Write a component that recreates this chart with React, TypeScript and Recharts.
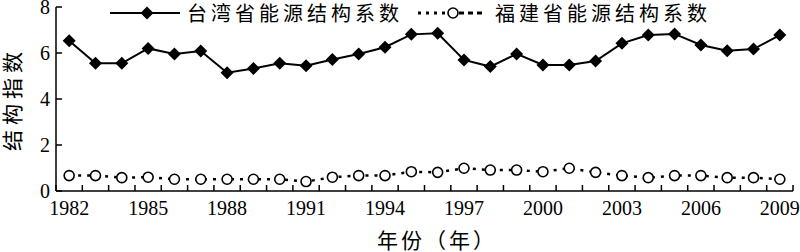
import React from 'react';
import { LineChart, Line, XAxis, YAxis } from 'recharts';

const years = [
  1982, 1983, 1984, 1985, 1986, 1987, 1988, 1989, 1990, 1991, 1992, 1993, 1994, 1995,
  1996, 1997, 1998, 1999, 2000, 2001, 2002, 2003, 2004, 2005, 2006, 2007, 2008, 2009,
];
const taiwan = [
  6.53, 5.55, 5.55, 6.2, 5.96, 6.09, 5.14, 5.33, 5.55, 5.45, 5.72, 5.96, 6.25, 6.81,
  6.86, 5.7, 5.41, 5.96, 5.48, 5.48, 5.65, 6.42, 6.78, 6.83, 6.35, 6.1, 6.17, 6.78,
];
const fujian = [
  0.67, 0.67, 0.58, 0.6, 0.51, 0.51, 0.51, 0.51, 0.51, 0.41, 0.6, 0.67, 0.67, 0.84,
  0.81, 0.99, 0.91, 0.91, 0.84, 0.99, 0.81, 0.67, 0.58, 0.67, 0.67, 0.58, 0.58, 0.51,
];
const yTicks = [0, 2, 4, 6, 8];
const labelYears = [1982, 1985, 1988, 1991, 1994, 1997, 2000, 2003, 2006, 2009];
const seriesNames = ['台湾省能源结构系数', '福建省能源结构系数'];

const data = years.map((y, i) => ({ year: y, tw: taiwan[i], fj: fujian[i] }));
const boundaries = [...years.map((y) => y - 0.5), years[years.length - 1] + 0.5];

const NUM_FONT = '"Liberation Serif", "Times New Roman", serif';
const CJK_FONT = '"Noto Sans CJK SC", sans-serif';

const Diamond = (props: any) => {
  const { cx, cy } = props;
  if (cx == null || cy == null) return null;
  const r = 6.5;
  return (
    <path
      d={`M${cx},${cy - r}L${cx + r},${cy}L${cx},${cy + r}L${cx - r},${cy}Z`}
      fill="#000"
    />
  );
};

const Ring = (props: any) => {
  const { cx, cy } = props;
  if (cx == null || cy == null) return null;
  return <circle cx={cx} cy={cy} r={5} fill="#fff" stroke="#000" strokeWidth={1.6} />;
};

const XTick = (props: any) => {
  const { x, y, payload } = props;
  const v = payload.value;
  if (Number.isInteger(v)) {
    return (
      <text x={x} y={y + 22} textAnchor="middle" fontFamily={NUM_FONT} fontSize={20} fill="#000">
        {v}
      </text>
    );
  }
  // boundary tick mark, drawn inward
  return <line x1={x} x2={x} y1={191} y2={185} stroke="#000" strokeWidth={1.5} />;
};

const YTick = (props: any) => {
  const { x, y, payload } = props;
  return (
    <g>
      <line x1={56} x2={62} y1={y} y2={y} stroke="#000" strokeWidth={1.5} />
      <text x={x - 6} y={y + 7} textAnchor="end" fontFamily={NUM_FONT} fontSize={20} fill="#000">
        {payload.value}
      </text>
    </g>
  );
};

export default function App() {
  return (
    <div style={{ position: 'absolute', left: 0, top: 0, background: '#fff' }}>
      <LineChart width={800} height={252} data={data} margin={{ top: 7, right: 7, bottom: 0, left: 0 }}>
        <XAxis
          dataKey="year"
          type="number"
          domain={[1981.5, 2009.5]}
          ticks={[...boundaries, ...labelYears]}
          interval={0}
          tick={<XTick />}
          tickLine={false}
          tickSize={0}
          axisLine={{ stroke: '#000', strokeWidth: 1.5 }}
          height={61}
          allowDataOverflow
        />
        <YAxis
          domain={[0, 8]}
          ticks={yTicks}
          interval={0}
          tick={<YTick />}
          tickLine={false}
          tickSize={0}
          tickMargin={0}
          axisLine={{ stroke: '#000', strokeWidth: 1.5 }}
          width={56}
        />
        <Line
          dataKey="tw"
          stroke="#000"
          strokeWidth={2}
          dot={<Diamond />}
          activeDot={false}
          isAnimationActive={false}
        />
        <Line
          dataKey="fj"
          stroke="#000"
          strokeWidth={2.5}
          strokeDasharray="3 6"
          dot={<Ring />}
          activeDot={false}
          isAnimationActive={false}
        />
        <g>
          <rect x={106} y={0} width={630} height={26} fill="#fff" />
          <line x1={110} x2={180} y1={13} y2={13} stroke="#000" strokeWidth={2} />
          <Diamond cx={147} cy={13} />
          <text x={187} y={21} fontFamily={CJK_FONT} fontSize={20} letterSpacing={4} fill="#000">
            {seriesNames[0]}
          </text>
          <line x1={418} x2={447} y1={13} y2={13} stroke="#000" strokeWidth={3} strokeDasharray="3 5" />
          <line x1={459} x2={486} y1={13} y2={13} stroke="#000" strokeWidth={3} strokeDasharray="5 4" />
          <Ring cx={453} cy={13} />
          <text x={495} y={21} fontFamily={CJK_FONT} fontSize={20} letterSpacing={4} fill="#000">
            {seriesNames[1]}
          </text>
        </g>
        <text
          x={437}
          y={248}
          textAnchor="middle"
          fontFamily={CJK_FONT}
          fontSize={21}
          letterSpacing={3}
          fill="#000"
        >
          年份（年）
        </text>
        <text
          x={20}
          y={99}
          textAnchor="middle"
          transform="rotate(-90 20 99)"
          fontFamily={CJK_FONT}
          fontSize={21}
          letterSpacing={5}
          fill="#000"
        >
          结构指数
        </text>
      </LineChart>
    </div>
  );
}
